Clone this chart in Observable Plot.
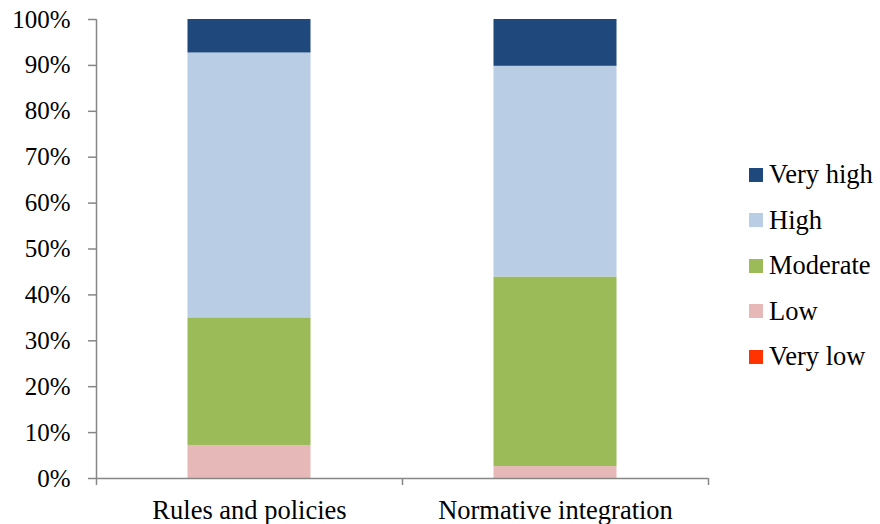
<!DOCTYPE html>
<html>
<head>
<meta charset="utf-8">
<script src="https://cdn.jsdelivr.net/npm/d3@7"></script>
<script src="https://cdn.jsdelivr.net/npm/@observablehq/plot@0.6"></script>
<style>
  body { margin: 0; background: #fff; }
  #wrap { position: relative; width: 880px; height: 524px; font-family: "Liberation Serif", "Times New Roman", serif; }
  #legend { position: absolute; left: 749px; top: 152px; }
  .row { display: flex; align-items: center; height: 45.5px; font-size: 26.5px; color: #000; }
  .sw { width: 14px; height: 14px; margin-right: 6px; }
</style>
</head>
<body>
<div id="wrap"></div>
<script>
const categories = ["Rules and policies", "Normative integration"];
const levels = ["Very low", "Low", "Moderate", "High", "Very high"];
const veryLow  = [0, 0];
const low      = [7.2, 2.6];
const moderate = [27.8, 41.3];
const high     = [57.7, 45.9];
const veryHigh = [7.3, 10.2];
const yTicks = [0, 0.1, 0.2, 0.3, 0.4, 0.5, 0.6, 0.7, 0.8, 0.9, 1.0];
const colors = ["#FF3300", "#E6B9B8", "#9BBB59", "#B9CDE5", "#1F497D"];

const series = [veryLow, low, moderate, high, veryHigh];
const rows = [];
categories.forEach((c, i) => {
  let acc = 0;
  levels.forEach((lv, k) => {
    const v = series[k][i] / 100;
    rows.push({idx: i, category: c, level: lv, y1: acc, y2: acc + v});
    acc += v;
  });
});

const font = "'Liberation Serif', 'Times New Roman', serif";
const axisColor = "#868686";

const chart = Plot.plot({
  width: 880,
  height: 524,
  marginLeft: 96,
  marginRight: 172,
  marginTop: 19,
  marginBottom: 46,
  style: {fontFamily: font, fontSize: "25px", color: "#000", background: "#fff"},
  x: {domain: [0, 2]},
  y: {domain: [0, 1]},
  color: {domain: levels, range: colors},
  marks: [
    Plot.rect(rows.filter(d => d.y2 > d.y1), {
      x1: d => d.idx + 0.299,
      x2: d => d.idx + 0.701,
      y1: "y1",
      y2: "y2",
      fill: "level"
    }),
    Plot.ruleX([0], {stroke: axisColor, strokeWidth: 1.5}),
    Plot.ruleY([0], {stroke: axisColor, strokeWidth: 1.5}),
    Plot.axisY({
      ticks: yTicks,
      tickFormat: d3.format(".0%"),
      tickSize: 8,
      tickPadding: 18,
      stroke: axisColor,
      strokeWidth: 1.5,
      strokeOpacity: 1,
      fill: "#000",
      fontSize: 25,
      label: null
    }),
    Plot.axisX({
      ticks: [0, 1, 2],
      tickSize: 7,
      tickFormat: () => "",
      stroke: axisColor,
      strokeWidth: 1.5,
      strokeOpacity: 1,
      label: null
    }),
    Plot.axisX({
      ticks: [0.5, 1.5],
      tickSize: 0,
      tickPadding: 22,
      tickFormat: d => categories[Math.floor(d)],
      fill: "#000",
      fontSize: 26.5,
      label: null
    })
  ]
});

const wrap = document.getElementById("wrap");
wrap.appendChild(chart);

const legend = document.createElement("div");
legend.id = "legend";
levels.slice().reverse().forEach(lv => {
  const row = document.createElement("div");
  row.className = "row";
  const sw = document.createElement("div");
  sw.className = "sw";
  sw.style.background = colors[levels.indexOf(lv)];
  const t = document.createElement("span");
  t.textContent = lv;
  row.appendChild(sw);
  row.appendChild(t);
  legend.appendChild(row);
});
wrap.appendChild(legend);
</script>
</body>
</html>
